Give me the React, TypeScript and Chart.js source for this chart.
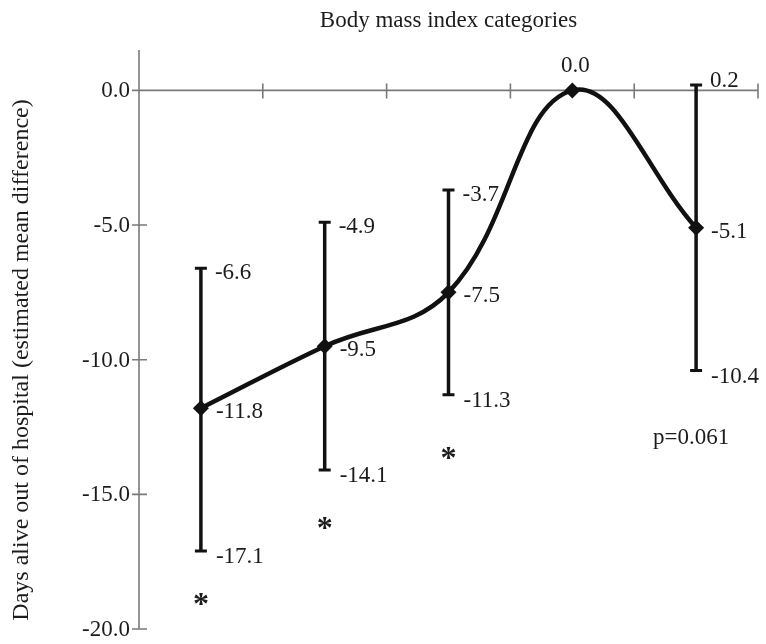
import React, { useEffect, useRef } from "react";
import { Chart, registerables } from "chart.js";
Chart.register(...registerables);

// BMI categories (the original figure shows no category labels)
const categories = ["BMI 1", "BMI 2", "BMI 3", "BMI 4 (reference)", "BMI 5"];
const estimates = [-11.8, -9.5, -7.5, 0.0, -5.1];
const upperCI: (number | null)[] = [-6.6, -4.9, -3.7, null, 0.2];
const lowerCI: (number | null)[] = [-17.1, -14.1, -11.3, null, -10.4];
const asteriskValues: (number | null)[] = [-18.8, -16.0, -13.4, null, null];
const yTicks = [0, -5, -10, -15, -20];
const yMin = -20;
const yMax = 1.5;
const pValueLabel = "p=0.061";
const pValueY = -12.9;
const xTitle = "Body mass index categories";
const yTitle = "Days alive out of hospital (estimated mean difference)";

const FONT = '"Liberation Serif", "Times New Roman", serif';
const FS = 23;
const TEXT = "#1c1c1c";
const AXIS = "#7a7a7a";
const INK = "#111111";

const fmt = (v: number) => (Math.abs(v) < 1e-9 ? "0.0" : v.toFixed(1));

const figurePlugin = {
  id: "figurePlugin",
  beforeDatasetsDraw(chart: any) {
    const { ctx, chartArea, scales } = chart;
    const xs = scales.x;
    const ys = scales.y;
    const y0 = ys.getPixelForValue(0);
    const half = (xs.getPixelForValue(1) - xs.getPixelForValue(0)) / 2;
    ctx.save();
    // axes
    ctx.strokeStyle = AXIS;
    ctx.lineWidth = 1.6;
    ctx.beginPath();
    ctx.moveTo(chartArea.left, chartArea.top);
    ctx.lineTo(chartArea.left, chartArea.bottom);
    ctx.moveTo(chartArea.left, y0);
    ctx.lineTo(chartArea.right, y0);
    // y ticks (crossing)
    yTicks.forEach((t) => {
      const py = ys.getPixelForValue(t);
      ctx.moveTo(chartArea.left - 7, py);
      ctx.lineTo(chartArea.left + 8, py);
    });
    // x ticks at category boundaries
    for (let i = 0; i < categories.length; i++) {
      const px = xs.getPixelForValue(i) + half;
      ctx.moveTo(px, y0 - 7);
      ctx.lineTo(px, y0 + 8);
    }
    ctx.stroke();

    // y tick labels
    ctx.fillStyle = TEXT;
    ctx.font = `${FS}px ${FONT}`;
    ctx.textAlign = "right";
    ctx.textBaseline = "middle";
    yTicks.forEach((t) => {
      ctx.fillText(fmt(t), chartArea.left - 9, ys.getPixelForValue(t) + 1);
    });

    // titles
    ctx.textAlign = "center";
    ctx.fillText(xTitle, (chartArea.left + chartArea.right) / 2, 21);
    ctx.save();
    ctx.font = `24px ${FONT}`;
    ctx.translate(22, 360);
    ctx.rotate(-Math.PI / 2);
    ctx.fillText(yTitle, 0, 0);
    ctx.restore();

    // error bars
    ctx.strokeStyle = INK;
    estimates.forEach((_, i) => {
      const u = upperCI[i];
      const l = lowerCI[i];
      if (u === null || l === null) return;
      const px = xs.getPixelForValue(i);
      const pu = ys.getPixelForValue(u);
      const pl = ys.getPixelForValue(l);
      ctx.lineWidth = 3.5;
      ctx.beginPath();
      ctx.moveTo(px, pu);
      ctx.lineTo(px, pl);
      ctx.stroke();
      ctx.lineWidth = 3;
      ctx.beginPath();
      ctx.moveTo(px - 6, pu);
      ctx.lineTo(px + 6, pu);
      ctx.moveTo(px - 6, pl);
      ctx.lineTo(px + 6, pl);
      ctx.stroke();
    });
    ctx.restore();
  },
  afterDatasetsDraw(chart: any) {
    const { ctx, scales } = chart;
    const xs = scales.x;
    const ys = scales.y;
    ctx.save();
    ctx.fillStyle = TEXT;
    ctx.font = `${FS}px ${FONT}`;
    ctx.textBaseline = "middle";
    estimates.forEach((v, i) => {
      const px = xs.getPixelForValue(i);
      const py = ys.getPixelForValue(v);
      const u = upperCI[i];
      const l = lowerCI[i];
      if (u === null || l === null) {
        ctx.textAlign = "center";
        ctx.fillText(fmt(v), px + 3, py - 24);
        return;
      }
      ctx.textAlign = "left";
      ctx.fillText(fmt(v), px + 15, py + 4);
      const pu = ys.getPixelForValue(u);
      ctx.fillText(fmt(u), px + 14, pu + (u >= 0 ? -4 : 5));
      ctx.fillText(fmt(l), px + 15, ys.getPixelForValue(l) + 6);
    });
    // significance asterisks
    ctx.font = `bold 32px ${FONT}`;
    ctx.textAlign = "center";
    ctx.textBaseline = "alphabetic";
    asteriskValues.forEach((a, i) => {
      if (a === null) return;
      ctx.fillText("*", xs.getPixelForValue(i), ys.getPixelForValue(a) + 17);
    });
    // p value
    ctx.font = `${FS}px ${FONT}`;
    ctx.textBaseline = "middle";
    ctx.fillText(pValueLabel, xs.getPixelForValue(categories.length - 1) - 5, ys.getPixelForValue(pValueY));
    ctx.restore();
  },
};

export default function App() {
  const ref = useRef<HTMLCanvasElement | null>(null);
  useEffect(() => {
    document.body.style.margin = "0";
    document.body.style.overflow = "hidden";
    if (!ref.current) return;
    const chart = new Chart(ref.current, {
      type: "line",
      data: {
        labels: categories,
        datasets: [
          {
            data: estimates,
            borderColor: INK,
            borderWidth: 4.5,
            tension: 0.4,
            pointStyle: "rectRot",
            pointRadius: 8,
            pointBackgroundColor: INK,
            pointBorderColor: INK,
            pointBorderWidth: 0,
            fill: false,
          },
        ],
      },
      options: {
        responsive: false,
        animation: false,
        layout: { padding: { left: 139, right: 3, top: 50, bottom: 15 } },
        plugins: { legend: { display: false }, tooltip: { enabled: false }, title: { display: false } },
        scales: {
          x: { type: "category", display: false, offset: true },
          y: { type: "linear", display: false, min: yMin, max: yMax },
        },
      },
      plugins: [figurePlugin],
    });
    return () => chart.destroy();
  }, []);
  return (
    <div style={{ width: 766, height: 644, background: "#fff", overflow: "hidden" }}>
      <canvas ref={ref} width={766} height={644} style={{ display: "block", width: 766, height: 644 }} />
    </div>
  );
}
